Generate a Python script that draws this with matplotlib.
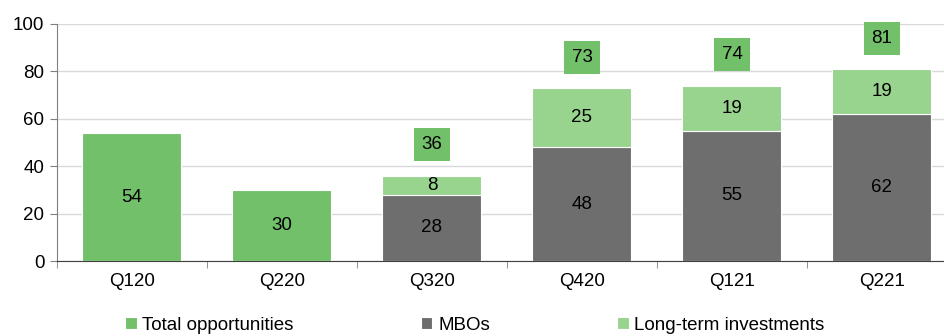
import matplotlib.pyplot as plt
import numpy as np
from matplotlib import rcParams
from matplotlib import font_manager

names = {f.name for f in font_manager.fontManager.ttflist}
fam = "Liberation Sans Narrow" if "Liberation Sans Narrow" in names else "Liberation Sans"
rcParams["font.family"] = [fam, "DejaVu Sans"]

quarters = ['Q120', 'Q220', 'Q320', 'Q420', 'Q121', 'Q221']
total = [54, 30, 36, 73, 74, 81]
mbos = [0, 0, 28, 48, 55, 62]
longterm = [0, 0, 8, 25, 19, 19]
split_from = 2   # first quarter with the MBO / long-term split

c_total = "#73C06B"
c_mbo = "#6E6E6E"
c_lt = "#98D48E"

fig = plt.figure(figsize=(9.45, 3.36), dpi=100)
ax = fig.add_axes([57/945, 1-261/336, 900/945, 237/336])

x = np.arange(len(quarters))
w = 0.66
xs, xt = x[:split_from], x[split_from:]
ax.bar(xs, total[:split_from], w, color=c_total, edgecolor="white", linewidth=0.8, zorder=3,
       label="Total opportunities")
ax.bar(xt, mbos[split_from:], w, color=c_mbo, edgecolor="white", linewidth=0.8, zorder=3, label="MBOs")
ax.bar(xt, longterm[split_from:], w, bottom=mbos[split_from:], color=c_lt, edgecolor="white",
       linewidth=0.8, zorder=3, label="Long-term investments")

fs = 13.5
for i in xs:
    ax.text(i, total[i]/2, str(total[i]), ha="center", va="center", fontsize=fs, zorder=4)
for i in xt:
    ax.text(i, mbos[i]/2, str(mbos[i]), ha="center", va="center", fontsize=fs, zorder=4)
    ax.text(i, mbos[i]+longterm[i]/2, str(longterm[i]), ha="center", va="center", fontsize=fs, zorder=4)
    ax.text(i, total[i]+13, str(total[i]), ha="center", va="center", fontsize=fs, zorder=4,
            bbox=dict(boxstyle="square,pad=0.42", facecolor=c_total, edgecolor="none"))

ax.set_xlim(-0.5, len(quarters)-0.5)
ax.set_ylim(0, 100)
ax.set_yticks(range(0, 101, 20))
ax.set_xticks(x)
ax.set_xticklabels(quarters)
ax.set_xticks(np.arange(-0.5, len(quarters), 1), minor=True)
ax.tick_params(axis="x", which="major", length=0, labelsize=fs, pad=9)
ax.tick_params(axis="x", which="minor", length=5, color="#808080", direction="out")
ax.tick_params(axis="y", length=5, color="#808080", labelsize=fs, pad=4)
ax.grid(axis="y", color="#D9D9D9", linewidth=1, zorder=0)
for s in ["top", "right"]:
    ax.spines[s].set_visible(False)
ax.spines["left"].set_color("#808080")
ax.spines["bottom"].set_color("#404040")

fig.legend(loc="center", bbox_to_anchor=(475/945, 1-325/336), ncol=3, frameon=False, fontsize=fs,
           handlelength=0.6, handleheight=0.6, handletextpad=0.3, columnspacing=6.8)

fig.savefig("out.png", dpi=100)
